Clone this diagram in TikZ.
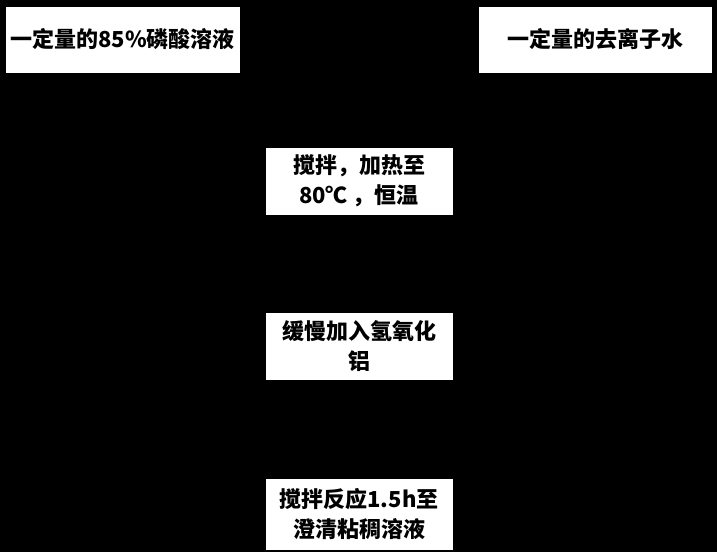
\documentclass[tikz,border=0pt]{standalone}
\usepackage{fontspec}
\newfontfamily\cjk{Noto Sans CJK SC}
\usetikzlibrary{arrows.meta}

\tikzset{
    stepbox/.style={draw=black, fill=white, inner sep=0pt, align=center,
        font=\cjk\bfseries\fontsize{22}{30}\selectfont},
    flow/.style={draw=black, thick, -{Stealth}}
}

\begin{document}
\begin{tikzpicture}[x=1pt, y=-1pt]
    % black sheet behind everything
    \fill[black] (0,0) rectangle (717,552);
    \useasboundingbox (0,0) rectangle (717,552);

    % the two starting materials
    \node[stepbox, minimum width=235pt, minimum height=67pt] (acid) at (122.5,39.5)
        {一定量的85\%磷酸溶液};
    \node[stepbox, minimum width=234pt, minimum height=67pt] (water) at (595,39.5)
        {一定量的去离子水};

    % the three process steps
    \node[stepbox, minimum width=188pt, minimum height=68pt] (heat) at (359,181)
        {搅拌，加热至\\80℃ ，恒温};
    \node[stepbox, minimum width=188pt, minimum height=68pt] (alum) at (359,346.5)
        {缓慢加入氢氧化\\铝};
    \node[stepbox, minimum width=188pt, minimum height=72pt] (react) at (359,514)
        {搅拌反应1.5h至\\澄清粘稠溶液};

    % arrows (black, as in the original)
    \draw[flow] (acid.south) -- (heat.north west);
    \draw[flow] (water.south) -- (heat.north east);
    \draw[flow] (heat) -- (alum);
    \draw[flow] (alum) -- (react);
\end{tikzpicture}
\end{document}
